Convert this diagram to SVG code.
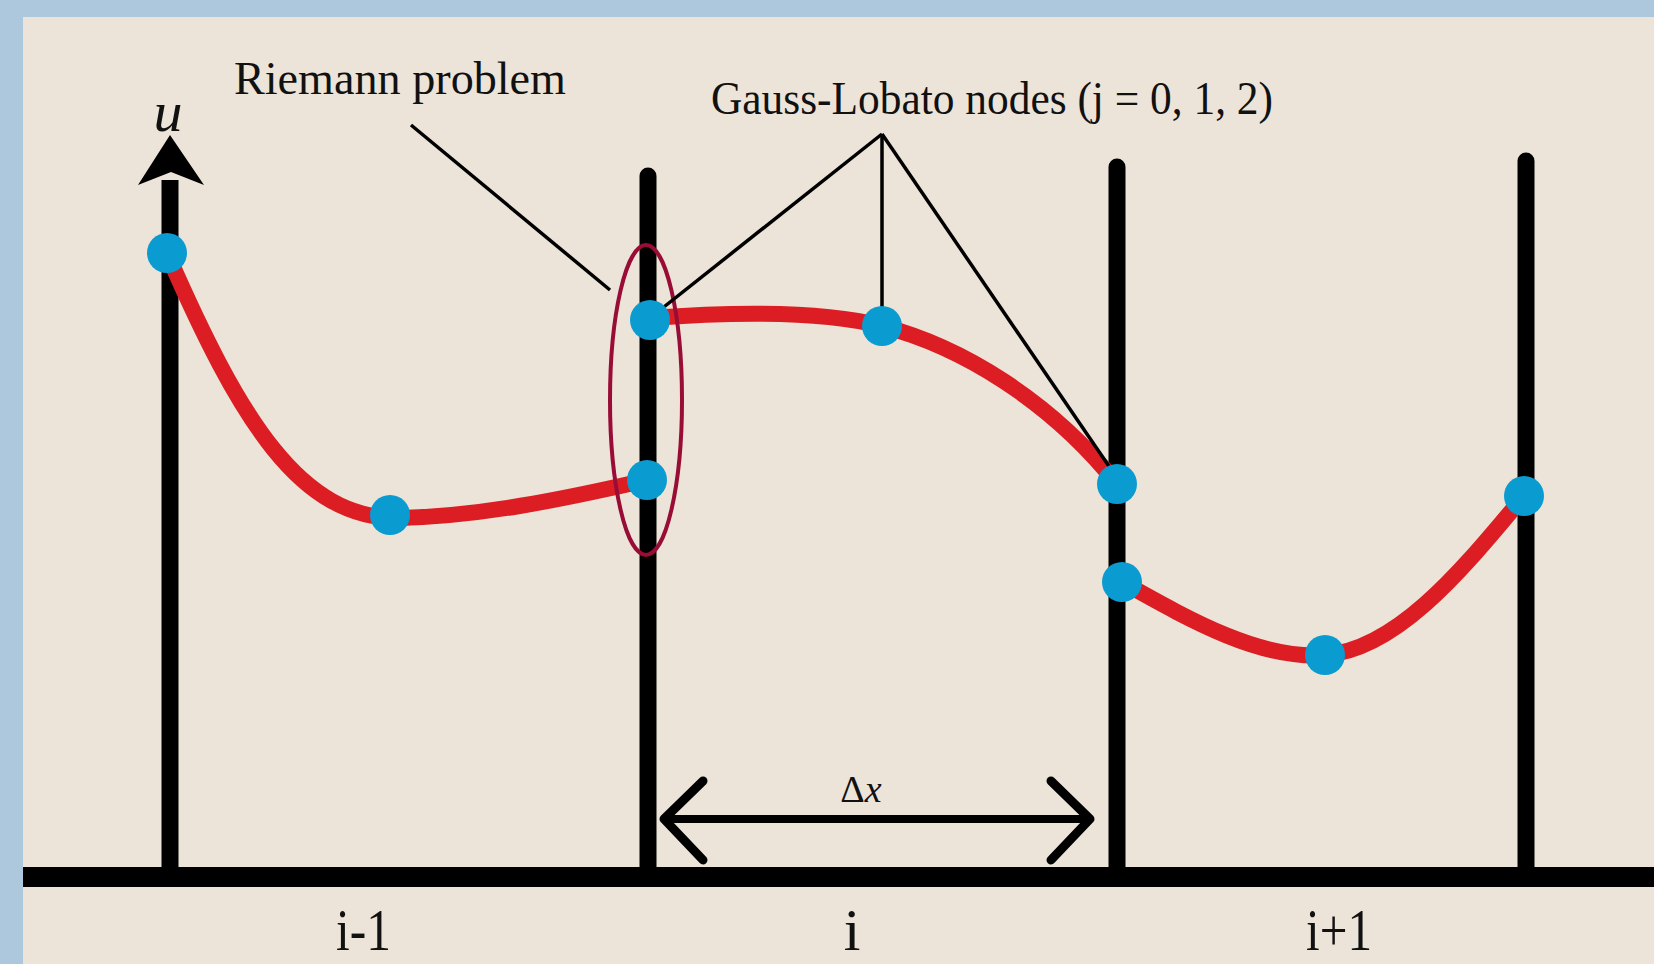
<svg xmlns="http://www.w3.org/2000/svg" width="1654" height="964" viewBox="0 0 1654 964">
<style>
.lbl{font-family:"Liberation Serif","DejaVu Serif",serif;fill:#111}
.cell{stroke:#000;stroke-width:17;stroke-linecap:round;fill:none}
.curve{stroke:#dc1e24;stroke-width:16;fill:none;stroke-linecap:round}
.node{fill:#0a9bd0}
.lead{stroke:#000;stroke-width:3.5;fill:none}
</style>
<rect x="0" y="0" width="1654" height="964" fill="#adc8dc"/>
<rect x="23" y="17" width="1631" height="947" fill="#ece4d8"/>

<g id="axes">
<line x1="170" y1="180" x2="170" y2="872" stroke="#000" stroke-width="17"/>
<path d="M170,135 L204,185 L171,172 L138,185 Z" fill="#000"/>
<text class="lbl" x="168" y="131" font-size="58" font-style="italic" text-anchor="middle">u</text>
<rect x="23" y="867" width="1631" height="20" fill="#000"/>
<line class="cell" x1="648" y1="176" x2="648" y2="870"/>
<line class="cell" x1="1117" y1="167" x2="1117" y2="870"/>
<line class="cell" x1="1526" y1="161" x2="1526" y2="870"/>
</g>

<g id="curves">
<path class="curve" d="M167,253 C240,420 300,520 400,518 C480,516 560,500 647,480"/>
<path class="curve" d="M650,318 C730,312 820,310 882,326 C960,346 1050,400 1117,484"/>
<path class="curve" d="M1122,582 C1190,620 1260,660 1325,655 C1400,650 1470,560 1524,496"/>
</g>

<g id="riemann">
<ellipse cx="646" cy="400" rx="36" ry="155" fill="none" stroke="#980c36" stroke-width="4"/>
</g>

<g id="connectors">
<line class="lead" x1="411" y1="125" x2="610" y2="290"/>
<line class="lead" x1="882" y1="134" x2="650" y2="318"/>
<line class="lead" x1="882" y1="134" x2="882" y2="322"/>
<line class="lead" x1="882" y1="134" x2="1117" y2="478"/>
</g>

<g id="nodes">
<circle id="n1" class="node" cx="167" cy="253" r="20"/>
<circle id="n2" class="node" cx="390" cy="515" r="20"/>
<circle id="n3" class="node" cx="650" cy="320" r="20"/>
<circle id="n4" class="node" cx="647" cy="480" r="20"/>
<circle id="n5" class="node" cx="882" cy="326" r="20"/>
<circle id="n6" class="node" cx="1117" cy="484" r="20"/>
<circle id="n7" class="node" cx="1122" cy="582" r="20"/>
<circle id="n8" class="node" cx="1325" cy="655" r="20"/>
<circle id="n9" class="node" cx="1524" cy="496" r="20"/>
</g>

<g id="dx">
<line x1="666" y1="819" x2="1088" y2="819" stroke="#000" stroke-width="8"/>
<polyline points="703,781 664,819 703,860" fill="none" stroke="#000" stroke-width="9" stroke-linejoin="round" stroke-linecap="round"/>
<polyline points="1051,781 1090,819 1051,860" fill="none" stroke="#000" stroke-width="9" stroke-linejoin="round" stroke-linecap="round"/>
<text class="lbl" x="861" y="802" font-size="38" text-anchor="middle">Δ<tspan font-style="italic">x</tspan></text>
</g>

<g id="labels">
<text class="lbl" x="234" y="94" font-size="46" textLength="332" lengthAdjust="spacingAndGlyphs">Riemann problem</text>
<text class="lbl" x="711" y="114" font-size="46" textLength="562" lengthAdjust="spacingAndGlyphs">Gauss-Lobato nodes (j = 0, 1, 2)</text>
<text class="lbl" x="336" y="950" font-size="60" textLength="55" lengthAdjust="spacingAndGlyphs">i-1</text>
<text class="lbl" x="852" y="950" font-size="60" text-anchor="middle">i</text>
<text class="lbl" x="1306" y="950" font-size="60" textLength="66" lengthAdjust="spacingAndGlyphs">i+1</text>
</g>
</svg>
